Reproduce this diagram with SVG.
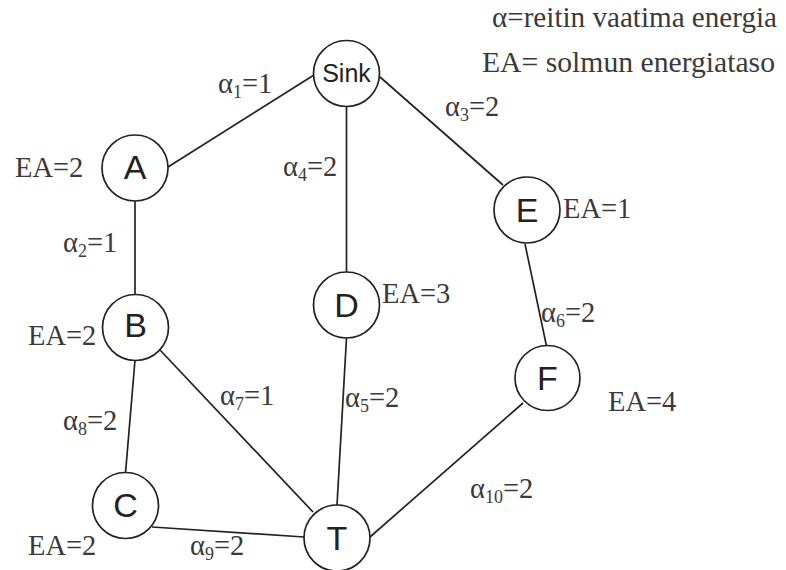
<svg xmlns="http://www.w3.org/2000/svg" width="786" height="570" viewBox="0 0 786 570">
<style>
.bg{fill:#fff}
.edge{stroke:#222;stroke-width:1.7;fill:none}
.node circle{fill:#fff;stroke:#222;stroke-width:1.7}
.nl{font-family:"Liberation Sans",Arial,sans-serif;font-size:34px;fill:#222;text-anchor:middle}
.lb{font-family:"Liberation Serif","Times New Roman",serif;font-size:28.5px;fill:#3a3a3a}
.sub{font-size:18px}
</style>
<rect class="bg" x="0" y="0" width="786" height="570"/>
<g id="connectors">
<line class="edge" x1="168" y1="167" x2="314" y2="75"/>
<line class="edge" x1="346.5" y1="106" x2="346.5" y2="272"/>
<line class="edge" x1="380" y1="77" x2="503" y2="185"/>
<line class="edge" x1="135" y1="201" x2="135" y2="295"/>
<line class="edge" x1="525" y1="244" x2="546.5" y2="346"/>
<line class="edge" x1="135" y1="360" x2="125.5" y2="473"/>
<line class="edge" x1="160" y1="350" x2="313" y2="512"/>
<line class="edge" x1="346.5" y1="338" x2="337" y2="505"/>
<line class="edge" x1="523" y1="403" x2="370" y2="537"/>
<line class="edge" x1="152" y1="527" x2="304" y2="537"/>
</g>
<g id="node-sink" class="node"><circle cx="346.5" cy="73.5" r="33"/><text class="nl" x="346.5" y="82" style="font-size:25px">Sink</text></g>
<g id="node-A" class="node"><circle cx="135" cy="168" r="33"/><text class="nl" x="135" y="178.5">A</text></g>
<g id="node-E" class="node"><circle cx="527" cy="210" r="33"/><text class="nl" x="527" y="222">E</text></g>
<g id="node-D" class="node"><circle cx="346.5" cy="305" r="33"/><text class="nl" x="346.5" y="317">D</text></g>
<g id="node-B" class="node"><circle cx="135.5" cy="327.5" r="33"/><text class="nl" x="135.5" y="337">B</text></g>
<g id="node-F" class="node"><circle cx="547.5" cy="378" r="32.5"/><text class="nl" x="547.5" y="390">F</text></g>
<g id="node-C" class="node"><circle cx="125.5" cy="505.5" r="33"/><text class="nl" x="125.5" y="517">C</text></g>
<g id="node-T" class="node"><circle cx="337" cy="538" r="33"/><text class="nl" x="337" y="550">T</text></g>
<g id="labels">
<text class="lb" x="492" y="27" textLength="285" lengthAdjust="spacingAndGlyphs">α=reitin vaatima energia</text>
<text class="lb" x="482" y="72" textLength="293" lengthAdjust="spacingAndGlyphs">EA= solmun energiataso</text>
<text class="lb" x="15" y="177">EA=2</text>
<text class="lb" x="563" y="218">EA=1</text>
<text class="lb" x="382" y="303">EA=3</text>
<text class="lb" x="28" y="345">EA=2</text>
<text class="lb" x="608" y="411">EA=4</text>
<text class="lb" x="28" y="555">EA=2</text>
<text class="lb" x="218" y="93">α<tspan class="sub" dy="5">1</tspan><tspan dy="-5">=1</tspan></text>
<text class="lb" x="445" y="116">α<tspan class="sub" dy="5">3</tspan><tspan dy="-5">=2</tspan></text>
<text class="lb" x="63" y="252">α<tspan class="sub" dy="5">2</tspan><tspan dy="-5">=1</tspan></text>
<text class="lb" x="283" y="176">α<tspan class="sub" dy="5">4</tspan><tspan dy="-5">=2</tspan></text>
<text class="lb" x="541" y="322">α<tspan class="sub" dy="5">6</tspan><tspan dy="-5">=2</tspan></text>
<text class="lb" x="220" y="405">α<tspan class="sub" dy="5">7</tspan><tspan dy="-5">=1</tspan></text>
<text class="lb" x="345" y="407">α<tspan class="sub" dy="5">5</tspan><tspan dy="-5">=2</tspan></text>
<text class="lb" x="63" y="430">α<tspan class="sub" dy="5">8</tspan><tspan dy="-5">=2</tspan></text>
<text class="lb" x="470" y="498">α<tspan class="sub" dy="5">10</tspan><tspan dy="-5">=2</tspan></text>
<text class="lb" x="190" y="555">α<tspan class="sub" dy="5">9</tspan><tspan dy="-5">=2</tspan></text>
</g>
</svg>
